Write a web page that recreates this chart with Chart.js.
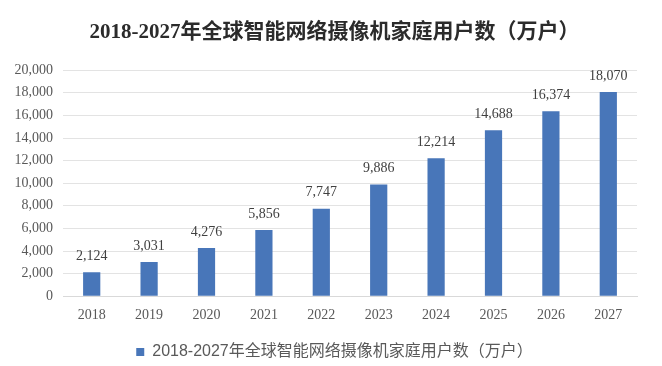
<!DOCTYPE html>
<html>
<head>
<meta charset="utf-8">
<script src="https://cdn.jsdelivr.net/npm/chart.js@4/dist/chart.umd.min.js"></script>
<style>
  html, body { margin: 0; padding: 0; background: #fff; }
  #wrap { width: 662px; height: 366px; }
</style>
</head>
<body>
<div id="wrap"><canvas id="c" width="662" height="366"></canvas></div>
<script>
const years = ['2018', '2019', '2020', '2021', '2022', '2023', '2024', '2025', '2026', '2027'];
const households = [2124, 3031, 4276, 5856, 7747, 9886, 12214, 14688, 16374, 18070];
const seriesName = '2018-2027年全球智能网络摄像机家庭用户数（万户）';
const chartTitle = '2018-2027年全球智能网络摄像机家庭用户数（万户）';

const serif = '"Liberation Serif", "Times New Roman", "Noto Sans CJK SC", serif';

// value labels above each bar
const barLabels = {
    id: 'barLabels',
    afterDatasetsDraw(chart) {
        const ctx = chart.ctx;
        const meta = chart.getDatasetMeta(0);
        ctx.save();
        ctx.font = '14px ' + serif;
        ctx.fillStyle = '#404040';
        ctx.textAlign = 'center';
        ctx.textBaseline = 'bottom';
        meta.data.forEach((bar, i) => {
            ctx.fillText(households[i].toLocaleString('en-US'), bar.x, bar.y - 9);
        });
        ctx.restore();
    }
};

// nudge title and legend a little to the right, like the original
const nudge = {
    id: 'nudge',
    afterLayout(chart) {
        const t = chart.titleBlock, l = chart.legend;
        if (t) { t.left += 13; t.right += 13; t.top += 2; t.bottom += 2; }
        if (l) { l.left += 13; l.right += 13; l.top += 4; l.bottom += 4; }
    }
};

const ctx = document.getElementById('c').getContext('2d');
new Chart(ctx, {
    type: 'bar',
    data: {
        labels: years,
        datasets: [{
            label: seriesName,
            data: households,
            backgroundColor: '#4876b9',
            barPercentage: 0.6,
            categoryPercentage: 0.5
        }]
    },
    options: {
        responsive: false,
        animation: false,
        layout: { padding: { left: 6, right: 25, top: 0, bottom: 0 } },
        plugins: {
            title: {
                display: true,
                text: chartTitle,
                color: '#2b2b2b',
                font: { family: serif, size: 21, weight: 'bold' },
                padding: { top: 18, bottom: 27 }
            },
            legend: {
                position: 'bottom',
                labels: {
                    boxWidth: 8,
                    boxHeight: 8,
                    color: '#595959',
                    font: { family: '"Liberation Sans", "Noto Sans CJK SC", sans-serif', size: 16 },
                    padding: 13
                }
            },
            tooltip: { enabled: false }
        },
        scales: {
            x: {
                grid: { display: false },
                border: { color: '#d9d9d9' },
                ticks: { color: '#595959', font: { family: serif, size: 14 }, padding: 3 }
            },
            y: {
                min: 0,
                max: 20000,
                afterFit(scale) { scale.width = 57; },
                grid: { color: '#e3e3e3', drawTicks: false },
                border: { display: false },
                ticks: {
                    stepSize: 2000,
                    color: '#595959',
                    padding: 10,
                    font: { family: serif, size: 14 },
                    callback: v => v.toLocaleString('en-US')
                }
            }
        }
    },
    plugins: [barLabels, nudge]
});
</script>
</body>
</html>
